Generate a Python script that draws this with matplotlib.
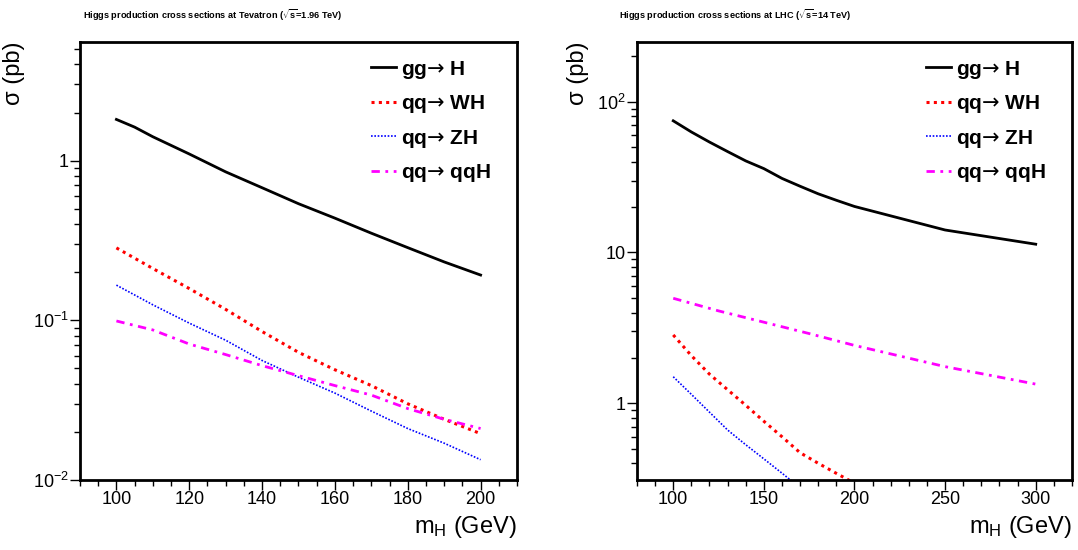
import numpy as np
import matplotlib
matplotlib.use("Agg")
import matplotlib.pyplot as plt
from matplotlib.ticker import FixedLocator, MultipleLocator, LogLocator, NullFormatter

plt.rcParams['font.family'] = ['Liberation Sans', 'DejaVu Sans']
plt.rcParams['mathtext.fontset'] = 'custom'
plt.rcParams['mathtext.rm'] = 'Liberation Sans'
plt.rcParams['mathtext.it'] = 'Liberation Sans:italic'
plt.rcParams['mathtext.bf'] = 'Liberation Sans:bold'
plt.rcParams['mathtext.sf'] = 'DejaVu Sans'

# Tevatron (sqrt(s)=1.96 TeV)
mh_tev = [100, 105, 110, 120, 130, 140, 150, 160, 170, 180, 190, 200]
gg_tev = [1.81, 1.62, 1.41, 1.10, 0.85, 0.676, 0.537, 0.436, 0.351, 0.285, 0.232, 0.192]
mh_tev2 = [100, 110, 120, 130, 140, 150, 160, 170, 180, 190, 200]
wh_tev = [0.284, 0.211, 0.158, 0.117, 0.085, 0.063, 0.049, 0.039, 0.030, 0.024, 0.0195]
zh_tev = [0.166, 0.125, 0.096, 0.075, 0.056, 0.044, 0.035, 0.027, 0.021, 0.017, 0.0134]
qqh_tev = [0.099, 0.087, 0.071, 0.061, 0.052, 0.045, 0.039, 0.034, 0.028, 0.024, 0.021]

# LHC (sqrt(s)=14 TeV)
mh_lhc = [100, 110, 120, 130, 140, 150, 160, 170, 180, 190, 200, 250, 300]
gg_lhc = [74.7, 63, 54, 46.7, 40.5, 36, 31, 27.5, 24.5, 22.2, 20.2, 14.1, 11.35]
wh_lhc = [2.84, 2.07, 1.56, 1.23, 0.97, 0.76, 0.60, 0.47, 0.40, 0.343, 0.295, 0.14, 0.07]
zh_lhc = [1.50, 1.146, 0.873, 0.665, 0.531, 0.428, 0.344, 0.275, 0.22, 0.18, 0.15, 0.07, 0.035]
mh_lhc2 = [100, 125, 150, 175, 200, 250, 300]
qqh_lhc = [4.97, 4.1, 3.45, 2.9, 2.42, 1.75, 1.34]

labels = ['gg$\\mathsf{\u2192}$ H', 'qq$\\mathsf{\u2192}$ WH',
          'qq$\\mathsf{\u2192}$ ZH', 'qq$\\mathsf{\u2192}$ qqH']

fig = plt.figure(figsize=(10.78, 5.5), dpi=100)
ax1 = fig.add_axes([0.0742, 0.1273, 0.4054, 0.7964])
ax2 = fig.add_axes([0.5909, 0.1273, 0.4035, 0.7964])


def draw(ax, x_gg, gg, x_v, wh, zh, x_q, qqh):
    ax.plot(x_gg, gg, color='black', lw=2.0, ls='-', label=labels[0])
    ax.plot(x_v, wh, color='red', lw=2.2, ls=(0, (1, 1.4)), label=labels[1])
    ax.plot(x_v, zh, color='blue', lw=1.2, ls=(0, (1, 1)), label=labels[2])
    ax.plot(x_q, qqh, color='magenta', lw=2.0, ls=(0, (3, 2, 1, 2)), label=labels[3])


draw(ax1, mh_tev, gg_tev, mh_tev2, wh_tev, zh_tev, mh_tev2, qqh_tev)
draw(ax2, mh_lhc, gg_lhc, mh_lhc, wh_lhc, zh_lhc, mh_lhc2, qqh_lhc)

ax1.set_xlim(90, 210)
ax1.set_ylim(0.01, 5.53)
ax2.set_xlim(80, 320)
ax2.set_ylim(0.31, 249)

for ax in (ax1, ax2):
    ax.set_yscale('log')
    for s in ['top', 'right', 'left', 'bottom']:
        ax.spines[s].set_linewidth(2.0)
    ax.tick_params(which='both', direction='out', top=False, right=False, labelsize=13, width=1.0)
    ax.tick_params(which='major', length=7, pad=1)
    ax.tick_params(which='minor', length=4)
    ax.yaxis.set_minor_locator(LogLocator(base=10, subs=np.arange(2, 10)))
    ax.yaxis.set_minor_formatter(NullFormatter())
    ax.set_xlabel('m$_\\mathrm{H}$ (GeV)', fontsize=17, loc='right', labelpad=4)
    ax.set_ylabel('\u03c3 (pb)', fontsize=17, loc='top', labelpad=6)
    ax.legend(loc='upper left', bbox_to_anchor=(0.665, 0.962), frameon=False,
              handlelength=1.2, handletextpad=0.25, labelspacing=0.6,
              borderpad=0, borderaxespad=0, prop={'weight': 'bold', 'size': 15})

ax1.xaxis.set_major_locator(MultipleLocator(20))
ax1.xaxis.set_minor_locator(MultipleLocator(5))
ax1.yaxis.set_major_locator(FixedLocator([0.01, 0.1, 1]))
ax1.set_yticklabels(['10$^{-2}$', '10$^{-1}$', '1'])

ax2.xaxis.set_major_locator(MultipleLocator(50))
ax2.xaxis.set_minor_locator(MultipleLocator(10))
ax2.yaxis.set_major_locator(FixedLocator([1, 10, 100]))
ax2.set_yticklabels(['1', '10', '10$^{2}$'])

fig.text(0.197, 0.972, 'Higgs production cross sections at Tevatron ($\\sqrt{\\mathbf{s}}$=1.96 TeV)',
         ha='center', va='center', fontsize=6.6, weight='bold')
fig.text(0.682, 0.972, 'Higgs production cross sections at LHC ($\\sqrt{\\mathbf{s}}$=14 TeV)',
         ha='center', va='center', fontsize=6.6, weight='bold')

plt.savefig('out.png', dpi=100)
plt.close()
